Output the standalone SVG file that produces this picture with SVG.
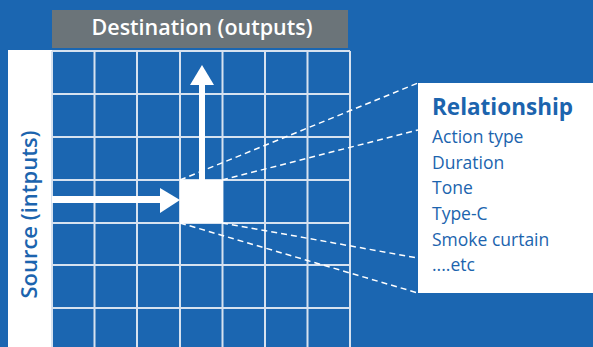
<svg xmlns="http://www.w3.org/2000/svg" width="593" height="347" viewBox="0 0 593 347">
<defs>
<style>
.grid{stroke:#d6e2f0;stroke-width:2;fill:none}
.dash{stroke:#ffffff;stroke-width:1.5;stroke-dasharray:6 4;fill:none}
.arrow{fill:#ffffff}
.lbl{font-family:"Open Sans","Noto Sans",sans-serif;fill:#1c64ae}
.item{font-size:17.5px}
</style>
</defs>
<rect x="0" y="0" width="593" height="347" fill="#1b66b1"/>
<g id="source-bar">
<rect x="8" y="50" width="44" height="297" fill="#ffffff"/>
<text class="lbl" transform="translate(37,214.5) rotate(-90)" text-anchor="middle" font-size="22" font-weight="600">Source (intputs)</text>
</g>
<g id="destination-header">
<rect x="52" y="10" width="296" height="38" fill="#6b7479"/>
<text x="202" y="34.5" text-anchor="middle" font-family="'Open Sans','Noto Sans',sans-serif" font-size="21.5" font-weight="600" fill="#ffffff">Destination (outputs)</text>
</g>
<g id="grid">
<path class="grid" d="M52 51V347M94.5 51V347M137 51V347M180 51V347M222.5 51V347M265 51V347M307.5 51V347M350 51V347"/>
<path class="grid" d="M52 51H350M52 94H350M52 137H350M52 180H350M52 223H350M52 265H350M52 308H350"/>
</g>
<g id="cell">
<rect x="180" y="180" width="43" height="43" fill="#ffffff"/>
</g>
<g id="connectors">
<rect class="arrow" x="199" y="84" width="6" height="97"/>
<polygon class="arrow" points="202,65 190,85 214,85"/>
<rect class="arrow" x="52" y="196" width="109" height="7"/>
<polygon class="arrow" points="180,200 160,188 160,213"/>
<path class="dash" d="M180 180L418 83"/>
<path class="dash" d="M222 180L418 130"/>
<path class="dash" d="M180 223L418 293"/>
<path class="dash" d="M222 223L418 258"/>
</g>
<g id="relationship-box">
<rect x="418" y="83" width="175" height="210" fill="#ffffff"/>
<text class="lbl" x="432" y="115" font-size="22.5" font-weight="700">Relationship</text>
<text class="lbl item" x="432" y="143">Action type</text>
<text class="lbl item" x="432" y="168.5">Duration</text>
<text class="lbl item" x="432" y="194">Tone</text>
<text class="lbl item" x="432" y="219.5">Type-C</text>
<text class="lbl item" x="432" y="245.5">Smoke curtain</text>
<text class="lbl item" x="432" y="271">....etc</text>
</g>
</svg>
